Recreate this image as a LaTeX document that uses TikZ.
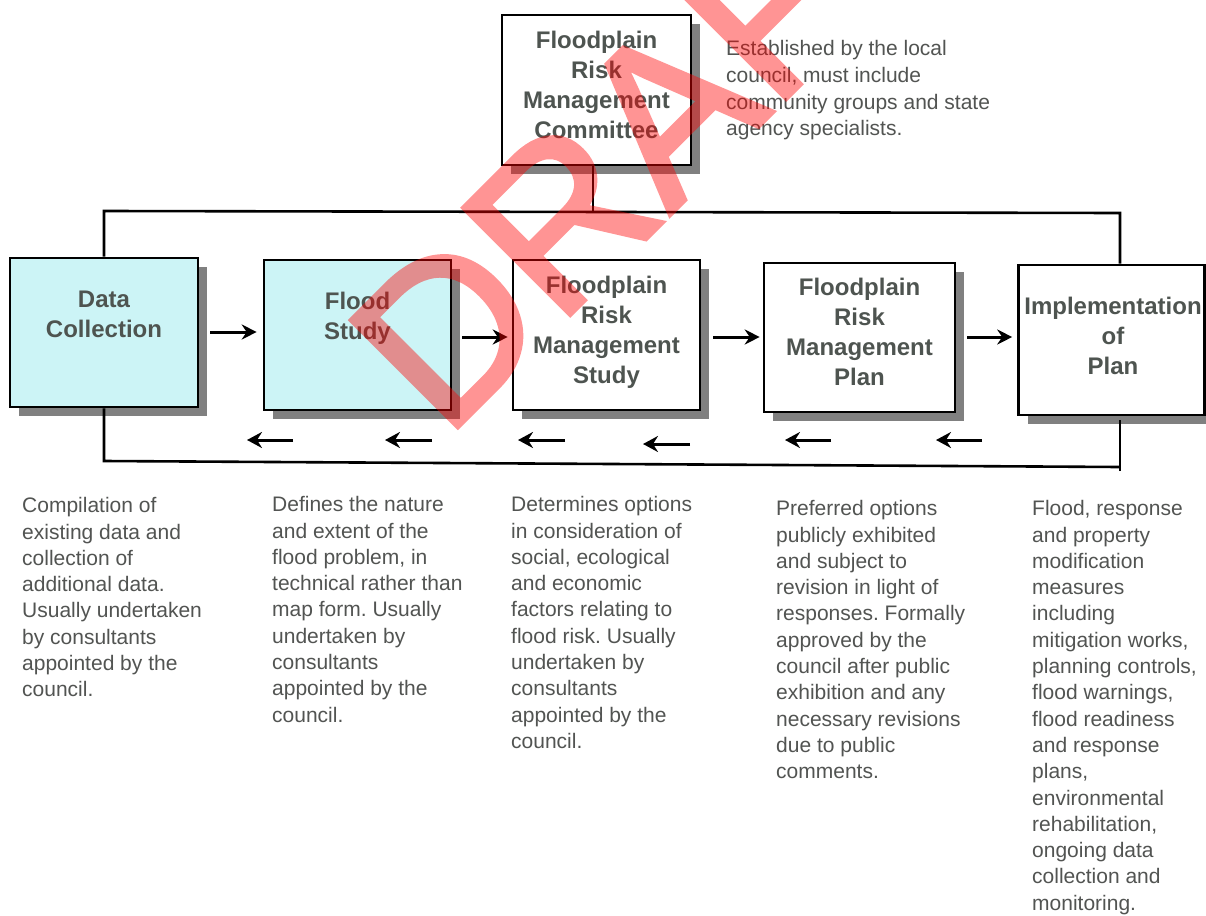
\documentclass[tikz,border=0pt]{standalone}
\usepackage{fontspec}
\setmainfont{Liberation Sans}
\newfontfamily\wmfont[FakeBold=2]{Liberation Sans}
\usetikzlibrary{shadows,arrows.meta}
\frenchspacing
\definecolor{boxfill}{RGB}{204,244,246}
\definecolor{boxtxt}{RGB}{78,84,80}
\definecolor{desctxt}{RGB}{82,84,82}
\tikzset{
  stagebox/.style={draw=black, line width=2.6pt, rectangle, inner sep=0pt, fill=white,
    drop shadow={shadow xshift=9pt, shadow yshift=-9pt, fill=black!50, opacity=1, draw=none}},
  cyanbox/.style={stagebox, fill=boxfill},
  boxlabel/.style={anchor=north, align=center, inner sep=0pt, text=boxtxt,
    font=\fontsize{24}{30}\selectfont\bfseries},
  desc/.style={anchor=north west, align=left, inner sep=0pt, text=desctxt,
    font=\fontsize{21}{26.3}\selectfont},
  fwd/.style={line width=3pt, -{Stealth[length=15pt,width=15pt,inset=5pt]}},
  back/.style={line width=3pt, -{Stealth[length=15pt,width=16pt,inset=5pt]}},
  loopline/.style={line width=2.6pt},
  wm/.style={anchor=base west, inner sep=0pt, rotate=45, text=red, draw=none,
    font=\wmfont\fontsize{220}{220}\selectfont}
}
\begin{document}
\begin{tikzpicture}[x=1pt,y=-1pt]
\clip (0,0) rectangle (1206,915);
\fill[white] (0,0) rectangle (1206,915);

% connector line corners
\coordinate (tl) at (104,211);
\coordinate (tm) at (593,212);
\coordinate (tr) at (1120,213);
\coordinate (bl) at (104,461);
\coordinate (br) at (1120,467);
\coordinate (brlow) at (1120,471);
\coordinate (brtop) at (1120,420);

% boxes
\node[stagebox, minimum width=189pt, minimum height=150pt] (com) at (596.5,90) {};
\node[cyanbox, minimum width=188pt, minimum height=149pt] (dc) at (104,332.5) {};
\node[cyanbox, minimum width=187pt, minimum height=150pt] (fs) at (357.5,335) {};
\node[stagebox, minimum width=187pt, minimum height=150pt] (frms) at (606.5,335) {};
\node[stagebox, minimum width=191pt, minimum height=149pt] (frmp) at (859.5,337.5) {};
\node[stagebox, minimum width=186pt, minimum height=150pt] (impl) at (1111.5,340) {};

\draw[loopline] (com.south -| tm) -- (tm);
\draw[loopline] (dc.north) -- (tl) -- (tr) -- (tr |- impl.north);
\draw[loopline] (dc.south) -- (bl) -- (br);
\draw[loopline] (brlow) -- (brtop);

% box labels
\node[boxlabel] (comt) at (596.5,27.6) {\strut Floodplain\\Risk\\Management\\Committee};
\node[boxlabel] (dct) at (104,286.6) {\strut Data\\Collection};
\node[boxlabel] (fst) at (357.5,288.6) {\strut Flood\\Study};
\node[boxlabel] (frmst) at (606.5,272.6) {\strut Floodplain\\Risk\\Management\\Study};
\node[boxlabel] (frmpt) at (859.5,274.6) {\strut Floodplain\\Risk\\Management\\Plan};
\node[boxlabel] (implt) at (1113,293.6) {\strut Implementation\\of\\Plan};

% forward arrows
\draw[fwd] ([xshift=11pt]dc.east |- 0,332) -- ([xshift=-6pt]fs.west |- 0,332);
\draw[fwd] ([xshift=10pt]fs.east |- 0,337) -- ([xshift=-4pt]frms.west |- 0,337);
\draw[fwd] ([xshift=12pt]frms.east |- 0,337) -- ([xshift=-3pt]frmp.west |- 0,337);
\draw[fwd] ([xshift=11pt]frmp.east |- 0,337) -- ([xshift=-5pt]impl.west |- 0,337);

% backward arrows
\coordinate (b1s) at (293,440); \coordinate (b1e) at (247,440);
\coordinate (b2s) at (432,440); \coordinate (b2e) at (385,440);
\coordinate (b3s) at (565,440); \coordinate (b3e) at (518,440);
\coordinate (b4s) at (690,444); \coordinate (b4e) at (643,444);
\coordinate (b5s) at (831,440); \coordinate (b5e) at (785,440);
\coordinate (b6s) at (982,440); \coordinate (b6e) at (936,440);
\draw[back] (b1s) -- (b1e);
\draw[back] (b2s) -- (b2e);
\draw[back] (b3s) -- (b3e);
\draw[back] (b4s) -- (b4e);
\draw[back] (b5s) -- (b5e);
\draw[back] (b6s) -- (b6e);

% descriptions
\node[desc, font=\fontsize{21}{26.6}\selectfont] (comd) at (726,37.1) {\strut Established by the local\\council, must include\\community groups and state\\agency specialists.};
\node[desc] (dcd) at (22,494.1) {\strut Compilation of\\existing data and\\collection of\\additional data.\\Usually undertaken\\by consultants\\appointed by the\\council.};
\node[desc] (fsd) at (272,493.1) {\strut Defines the nature\\and extent of the\\flood problem, in\\technical rather than\\map form. Usually\\undertaken by\\consultants\\appointed by the\\council.};
\node[desc] (frmsd) at (511,493.1) {\strut Determines options\\in consideration of\\social, ecological\\and economic\\factors relating to\\flood risk. Usually\\undertaken by\\consultants\\appointed by the\\council.};
\node[desc] (frmpd) at (776,497.1) {\strut Preferred options\\publicly exhibited\\and subject to\\revision in light of\\responses. Formally\\approved by the\\council after public\\exhibition and any\\necessary revisions\\due to public\\comments.};
\node[desc] (impld) at (1032,497.1) {\strut Flood, response\\and property\\modification\\measures\\including\\mitigation works,\\planning controls,\\flood warnings,\\flood readiness\\and response\\plans,\\environmental\\rehabilitation,\\ongoing data\\collection and\\monitoring.};

% watermark
\begin{scope}[transparency group, opacity=0.42]
\node[wm] (draft) at (445,440) {DRAFT};
\end{scope}
\end{tikzpicture}
\end{document}
